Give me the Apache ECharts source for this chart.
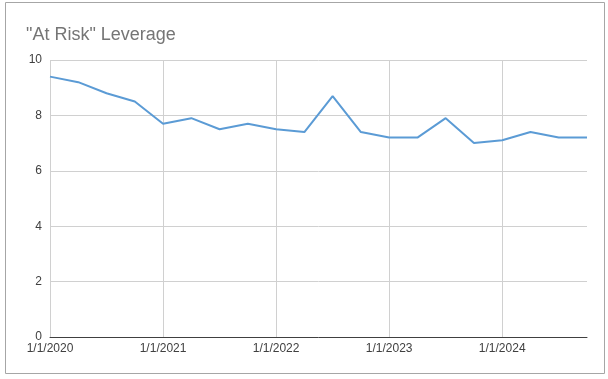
<!DOCTYPE html>
<html><head><meta charset="utf-8">
<script src="https://cdn.jsdelivr.net/npm/echarts@6/dist/echarts.min.js"></script>
<style>html,body{margin:0;padding:0;background:#fff}#c{width:608px;height:379px}</style>
</head><body><div id="c"></div>
<script>
const categories = ["1/1/2020","4/1/2020","7/1/2020","10/1/2020","1/1/2021","4/1/2021","7/1/2021","10/1/2021","1/1/2022","4/1/2022","7/1/2022","10/1/2022","1/1/2023","4/1/2023","7/1/2023","10/1/2023","1/1/2024","4/1/2024","7/1/2024","10/1/2024"];
const leverage = [9.4,9.2,8.8,8.5,7.7,7.9,7.5,7.7,7.5,7.4,8.7,7.4,7.2,7.2,7.9,7.0,7.1,7.4,7.2,7.2];
const yTicks = [0,2,4,6,8,10];

const chart = echarts.init(document.getElementById('c'), null, {renderer:'canvas'});
const fontFam = '"Liberation Sans", Arial, sans-serif';
chart.setOption({
  animation:false,
  title:{text:'"At Risk" Leverage', left:21, top:21, textStyle:{fontFamily:fontFam, fontSize:18, fontWeight:'normal', color:'#757575'}},
  graphic:[{type:'rect', shape:{x:5.5,y:2.5,width:599,height:371}, style:{fill:null, stroke:'#a6a6a6', lineWidth:1}, silent:true}],
  grid:{left:50, right:21, top:60, bottom:42},
  xAxis:{type:'category', data:categories, boundaryGap:false,
    axisLine:{lineStyle:{color:'#404040', width:1}}, axisTick:{show:false},
    axisLabel:{interval:3, color:'#404040', fontFamily:fontFam, fontSize:12, margin:6},
    splitLine:{show:true, interval:3, lineStyle:{color:'#d0d0d0', width:1}}},
  yAxis:{type:'value', min:yTicks[0], max:yTicks[yTicks.length-1], interval:2,
    axisLine:{show:false}, axisTick:{show:false},
    axisLabel:{color:'#404040', fontFamily:fontFam, fontSize:12, margin:8},
    splitLine:{lineStyle:{color:'#d0d0d0', width:1}}},
  series:[{type:'line', data:leverage, symbol:'none', lineStyle:{color:'#5b9bd5', width:2}}]
});
</script></body></html>
